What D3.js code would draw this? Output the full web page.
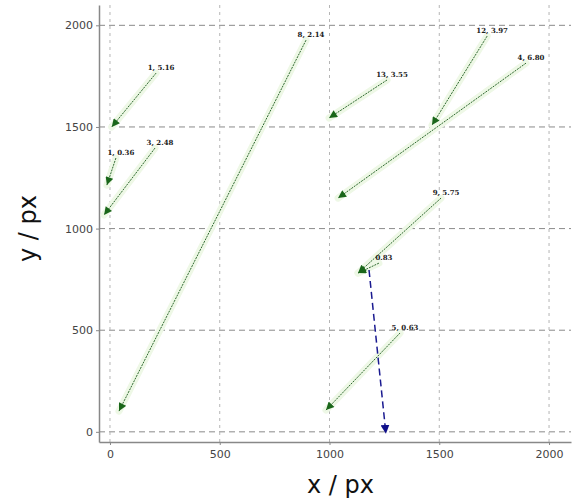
<!DOCTYPE html>
<html>
<head>
<meta charset="utf-8">
<script src="https://cdn.jsdelivr.net/npm/d3@7"></script>
<style>
  body { margin: 0; background: #fff; }
  svg { display: block; }
</style>
</head>
<body>
<div id="chart"></div>
<script>
// annotation data (data units): label, tail point, head point
const labels = ["1, 5.16", "8, 2.14", "13, 3.55", "12, 3.97", "4, 6.80", "1, 0.36", "3, 2.48", "9, 5.75", "0.83", "5, 0.63"];
const tailX = [210, 893, 1262, 1718, 1895, 27, 205, 1508, 1225, 1321];
const tailY = [1765, 1927, 1731, 1947, 1814, 1347, 1396, 1150, 830, 486];
const headX = [8, 41, 998, 1467, 1039, -14, -27, 1130, 1130, 984];
const headY = [1500, 102, 1544, 1509, 1150, 1214, 1067, 781, 781, 107];

// the blue dashed track
const blueX = [1180, 1257];
const blueY = [796, -10];

const xTicks = [0, 500, 1000, 1500, 2000];
const yTicks = [0, 500, 1000, 1500, 2000];

const W = 579, H = 499;
const margin = { top: 5, right: 8, bottom: 57, left: 99 };
const width = W - margin.left - margin.right;
const height = H - margin.top - margin.bottom;

const svgRoot = d3.select("#chart").append("svg")
    .attr("width", W)
    .attr("height", H);

const defs = svgRoot.append("defs");
// arrow heads
defs.append("marker")
    .attr("id", "head-green")
    .attr("viewBox", "0 0 10 10")
    .attr("refX", 10).attr("refY", 5)
    .attr("markerWidth", 9).attr("markerHeight", 8)
    .attr("markerUnits", "userSpaceOnUse")
    .attr("orient", "auto")
    .append("path")
    .attr("d", "M0,0 L10,5 L0,10 Z")
    .style("fill", "#1a661a");
defs.append("marker")
    .attr("id", "head-blue")
    .attr("viewBox", "0 0 10 10")
    .attr("refX", 10).attr("refY", 5)
    .attr("markerWidth", 9).attr("markerHeight", 9)
    .attr("markerUnits", "userSpaceOnUse")
    .attr("orient", "auto")
    .append("path")
    .attr("d", "M0,0 L10,5 L0,10 Z")
    .style("fill", "#10108a");

const svg = svgRoot.append("g")
    .attr("transform", `translate(${margin.left},${margin.top})`);

const x = d3.scaleLinear().domain([-50, 2100]).range([0, width]);
const y = d3.scaleLinear().domain([-50, 2100]).range([height, 0]);

// grid
svg.append("g").selectAll("line")
    .data(yTicks).enter().append("line")
    .attr("x1", 0).attr("x2", width)
    .attr("y1", d => y(d)).attr("y2", d => y(d))
    .style("stroke", "#8a8a8a")
    .style("stroke-width", 1)
    .style("stroke-dasharray", "6,4");
svg.append("g").selectAll("line")
    .data(xTicks).enter().append("line")
    .attr("y1", 0).attr("y2", height)
    .attr("x1", d => x(d)).attr("x2", d => x(d))
    .style("stroke", "#b5b5b5")
    .style("stroke-width", 1)
    .style("stroke-dasharray", "3,4");

// axes
const xAxis = d3.axisBottom(x).tickValues(xTicks).tickFormat(d3.format("d")).tickSize(3).tickSizeOuter(0);
const yAxis = d3.axisLeft(y).tickValues(yTicks).tickFormat(d3.format("d")).tickSize(3).tickSizeOuter(0);

const gx = svg.append("g")
    .attr("transform", `translate(0,${height})`)
    .call(xAxis);
const gy = svg.append("g").call(yAxis);

[gx, gy].forEach(g => {
    g.select(".domain").style("stroke", "#888").style("stroke-width", 1.5);
    g.selectAll(".tick line").style("stroke", "#888");
    g.selectAll("text")
        .style("font-family", "DejaVu Sans")
        .style("font-size", "11px")
        .style("fill", "#444");
});
gx.selectAll("text").attr("dy", "0.9em");
gy.selectAll("text").attr("x", -6);

// axis titles
svgRoot.append("text")
    .attr("x", margin.left + x(1050))
    .attr("y", 493)
    .attr("text-anchor", "middle")
    .style("font-family", "DejaVu Sans")
    .style("font-size", "24px")
    .style("fill", "#111")
    .text("x / px");
svgRoot.append("text")
    .attr("transform", `translate(36,${margin.top + y(1000)}) rotate(-90)`)
    .attr("text-anchor", "middle")
    .style("font-family", "DejaVu Sans")
    .style("font-size", "24px")
    .style("fill", "#111")
    .text("y / px");

// annotations
const ann = labels.map((l, i) => ({ label: l, x0: tailX[i], y0: tailY[i], x1: headX[i], y1: headY[i] }));

// faint halo under the arrows
svg.append("g").selectAll("line")
    .data(ann).enter().append("line")
    .attr("x1", d => x(d.x0)).attr("y1", d => y(d.y0))
    .attr("x2", d => x(d.x1)).attr("y2", d => y(d.y1))
    .style("stroke", "#eef8e6")
    .style("stroke-width", 7)
    .style("stroke-linecap", "round");

svg.append("g").selectAll("line")
    .data(ann).enter().append("line")
    .attr("x1", d => x(d.x0)).attr("y1", d => y(d.y0))
    .attr("x2", d => x(d.x1)).attr("y2", d => y(d.y1))
    .style("stroke", "#2f6a2f")
    .style("stroke-width", 1)
    .style("stroke-dasharray", "2,1")
    .attr("marker-end", "url(#head-green)");

svg.append("g").selectAll("text")
    .data(ann).enter().append("text")
    .attr("x", d => x(d.x0) + 5)
    .attr("y", d => y(d.y0) - 3)
    .attr("text-anchor", "middle")
    .style("font-family", "DejaVu Serif")
    .style("font-size", "7px")
    .style("font-weight", "bold")
    .style("fill", "#222")
    .text(d => d.label);

// blue dashed track
svg.append("line")
    .attr("x1", x(blueX[0])).attr("y1", y(blueY[0]))
    .attr("x2", x(blueX[1])).attr("y2", y(blueY[1]))
    .style("stroke", "#1a1a90")
    .style("stroke-width", 1.5)
    .style("stroke-dasharray", "7,4")
    .attr("marker-end", "url(#head-blue)");
</script>
</body>
</html>
